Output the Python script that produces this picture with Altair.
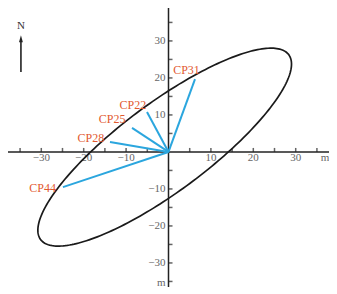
import altair as alt
import pandas as pd
import numpy as np

# Survey points: end of each blue line (m) and label anchor (m)
points = ["CP31", "CP22", "CP25", "CP28", "CP44"]
end_x = [6.25, -5.07, -8.6, -13.8, -24.9]
end_y = [19.7, 10.8, 6.5, 2.7, -9.5]
label_x = [4.25, -8.4, -13.3, -18.3, -29.7]
label_y = [22.2, 12.7, 8.9, 3.8, -9.7]

# Error ellipse
ell_cx, ell_cy = -0.9, 1.3
ell_a, ell_b = 38.5, 11.3
ell_angle_deg = 41.2

# Axes
x_domain = [-37.85, 37.85]
y_domain = [-36.5, 38.9]
tick_values = [-35, -30, -25, -20, -15, -10, -5, 5, 10, 15, 20, 25, 30, 35]
label_values = [-30, -20, -10, 10, 20, 30]
unit_label = "m"

# North arrow
north_x = -34.8
north_y0, north_y1, north_tip, north_label_y = 21.6, 30.0, 30.6, 34.1

FONT = "Liberation Serif"
BLUE = "#2ba6de"
RED = "#e2592f"

xs = alt.Scale(domain=x_domain, nice=False, zero=False)
ys = alt.Scale(domain=y_domain, nice=False, zero=False)

# ellipse outline
t = np.linspace(0, 2 * np.pi, 241)
th = np.radians(ell_angle_deg)
ex = ell_cx + ell_a * np.cos(t) * np.cos(th) - ell_b * np.sin(t) * np.sin(th)
ey = ell_cy + ell_a * np.cos(t) * np.sin(th) + ell_b * np.sin(t) * np.cos(th)
ell_df = pd.DataFrame({"x": ex, "y": ey, "o": np.arange(len(t))})

ellipse = alt.Chart(ell_df).mark_line(color="#1a1a1a", strokeWidth=1.7).encode(
    x=alt.X("x:Q", scale=xs, axis=None),
    y=alt.Y("y:Q", scale=ys, axis=None),
    order="o:Q",
)

seg_df = pd.DataFrame({"p": points, "x0": [0] * len(points), "y0": [0] * len(points),
                       "x": end_x, "y": end_y})
segs = alt.Chart(seg_df).mark_rule(color=BLUE, strokeWidth=2).encode(
    x=alt.X("x0:Q", scale=xs, axis=None), y=alt.Y("y0:Q", scale=ys, axis=None),
    x2="x:Q", y2="y:Q",
)

lab_df = pd.DataFrame({"p": points, "x": label_x, "y": label_y})
labels = alt.Chart(lab_df).mark_text(font=FONT, fontSize=12, color=RED,
                                     align="center", baseline="middle").encode(
    x=alt.X("x:Q", scale=xs, axis=None), y=alt.Y("y:Q", scale=ys, axis=None), text="p:N",
)

# axis lines
xaxis_df = pd.DataFrame({"x": [x_domain[0]], "x2": [x_domain[1]], "y": [0]})
xaxis = alt.Chart(xaxis_df).mark_rule(color="#222", strokeWidth=1.5).encode(
    x=alt.X("x:Q", scale=xs, axis=None), x2="x2:Q", y=alt.Y("y:Q", scale=ys, axis=None))
yaxis_df = pd.DataFrame({"y": [y_domain[0]], "y2": [y_domain[1]], "x": [0]})
yaxis = alt.Chart(yaxis_df).mark_rule(color="#222", strokeWidth=1.5).encode(
    y=alt.Y("y:Q", scale=ys, axis=None), y2="y2:Q", x=alt.X("x:Q", scale=xs, axis=None))

# ticks
xt_df = pd.DataFrame({"v": tick_values, "z": [0] * len(tick_values)})
xticks = alt.Chart(xt_df).mark_tick(orient="vertical", size=4, thickness=1.5,
                                    color="#222", yOffset=-2).encode(
    x=alt.X("v:Q", scale=xs, axis=None), y=alt.Y("z:Q", scale=ys, axis=None))
yticks = alt.Chart(xt_df).mark_tick(orient="horizontal", size=4, thickness=1.5,
                                    color="#222", xOffset=2).encode(
    y=alt.Y("v:Q", scale=ys, axis=None), x=alt.X("z:Q", scale=xs, axis=None))

def fmt(v):
    return ("\u2212" + str(-v)) if v < 0 else str(v)

xl_df = pd.DataFrame({"v": label_values + [36.9], "z": [0] * (len(label_values) + 1),
                      "t": [fmt(v) for v in label_values] + [unit_label]})
xlabels = alt.Chart(xl_df).mark_text(font=FONT, fontSize=11, color="#666",
                                     baseline="middle", align="center", dy=6).encode(
    x=alt.X("v:Q", scale=xs, axis=None), y=alt.Y("z:Q", scale=ys, axis=None), text="t:N")
yl_df = pd.DataFrame({"v": label_values + [-35.4], "z": [0] * (len(label_values) + 1),
                      "t": [fmt(v) for v in label_values] + [unit_label]})
ylabels = alt.Chart(yl_df).mark_text(font=FONT, fontSize=11, color="#666",
                                     baseline="middle", align="right", dx=-3).encode(
    y=alt.Y("v:Q", scale=ys, axis=None), x=alt.X("z:Q", scale=xs, axis=None), text="t:N")

# north arrow
n_df = pd.DataFrame({"x": [north_x], "y0": [north_y0], "y1": [north_y1],
                     "tip": [north_tip], "ly": [north_label_y], "t": ["N"]})
n_shaft = alt.Chart(n_df).mark_rule(color="#222", strokeWidth=1.6).encode(
    x=alt.X("x:Q", scale=xs, axis=None), y=alt.Y("y0:Q", scale=ys, axis=None), y2="y1:Q")
n_head = alt.Chart(n_df).mark_point(shape="M0,-1L0.55,1L-0.55,1Z", filled=True, size=50,
                                    color="#222", opacity=1).encode(
    x=alt.X("x:Q", scale=xs, axis=None), y=alt.Y("tip:Q", scale=ys, axis=None))
n_text = alt.Chart(n_df).mark_text(font=FONT, fontSize=11, color="#333",
                                   baseline="middle").encode(
    x=alt.X("x:Q", scale=xs, axis=None), y=alt.Y("ly:Q", scale=ys, axis=None), text="t:N")

chart = alt.layer(
    xaxis, yaxis, xticks, yticks, xlabels, ylabels,
    ellipse, segs, labels, n_shaft, n_head, n_text,
).properties(
    width=321, height=279,
    padding={"left": 0, "top": 0, "right": 0, "bottom": 8},
    autosize=alt.AutoSizeParams(type="none"),
).configure_view(stroke=None)

chart.save("out.html", embed_options={"renderer": "svg", "actions": False})
